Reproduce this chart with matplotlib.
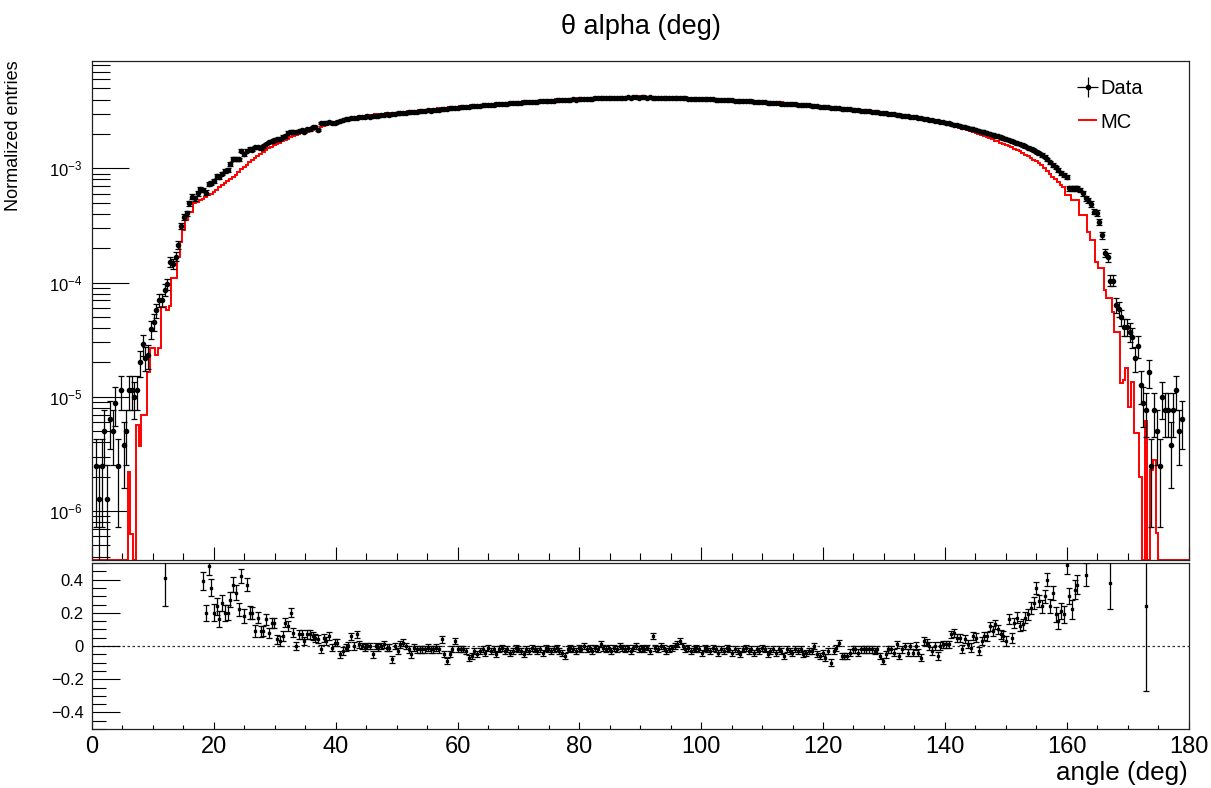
import numpy as np
import matplotlib
matplotlib.use('Agg')
import matplotlib.pyplot as plt
from matplotlib.ticker import MultipleLocator, LogLocator, NullFormatter, FuncFormatter, LogFormatterSciNotation

plt.rcParams['font.family'] = ['Liberation Sans', 'DejaVu Sans']
plt.rcParams['mathtext.fontset'] = 'custom'
plt.rcParams['mathtext.rm'] = 'Liberation Sans'
plt.rcParams['mathtext.it'] = 'Liberation Sans:italic'
plt.rcParams['mathtext.bf'] = 'Liberation Sans:bold'

nan = np.nan

# 400 bins of 0.45 deg from 0 to 180; normalized entries in units of 1e-3
data_e3 = [
    0, 0.0025, 0.00127, 0.0025, 0.00506, 0.00127, 0.00635, 0.00506, 0.0089, 0.0025,
    0.0114, 0.0038, 0.00506, 0.0114, 0.0114, 0.0100, 0.0114, 0.020, 0.029, 0.022,
    0.023, 0.039, 0.045, 0.057, 0.070, 0.070, 0.086, 0.097, 0.152, 0.146,
    0.169, 0.213, 0.315, 0.377, 0.404, 0.494, 0.565, 0.546, 0.604, 0.655,
    0.650, 0.612, 0.724, 0.750, 0.780, 0.857, 0.840, 0.900, 0.946, 0.970,
    1.09, 1.21, 1.21, 1.20, 1.43, 1.33, 1.43, 1.48, 1.45, 1.53,
    1.53, 1.50, 1.56, 1.63, 1.70, 1.72, 1.76, 1.79, 1.82, 1.89,
    1.91, 2.05, 2.10, 2.07, 2.07, 2.13, 2.16, 2.10, 2.20, 2.19,
    2.31, 2.31, 2.16, 2.48, 2.50, 2.50, 2.52, 2.48, 2.50, 2.53,
    2.61, 2.66, 2.71, 2.72, 2.74, 2.76, 2.74, 2.79, 2.80, 2.83,
    2.85, 2.84, 2.88, 2.90, 2.89, 2.93, 2.95, 2.96, 2.94, 2.99,
    3.01, 3.02, 3.04, 3.03, 3.07, 3.09, 3.10, 3.12, 3.11, 3.16,
    3.17, 3.20, 3.21, 3.19, 3.25, 3.26, 3.27, 3.30, 3.28, 3.33,
    3.35, 3.36, 3.39, 3.40, 3.42, 3.41, 3.45, 3.47, 3.48, 3.50,
    3.49, 3.53, 3.55, 3.57, 3.58, 3.57, 3.61, 3.63, 3.64, 3.66,
    3.65, 3.69, 3.70, 3.72, 3.73, 3.75, 3.74, 3.78, 3.79, 3.80,
    3.82, 3.81, 3.84, 3.86, 3.87, 3.88, 3.86, 3.91, 3.92, 3.93,
    3.95, 3.94, 3.97, 3.98, 3.99, 4.01, 4.00, 4.03, 4.04, 4.05,
    4.06, 4.05, 4.08, 4.09, 4.10, 4.09, 4.11, 4.12, 4.13, 4.12,
    4.14, 4.15, 4.14, 4.16, 4.15, 4.17, 4.16, 4.17, 4.18, 4.16,
    4.25, 4.17, 4.16, 4.17, 4.15, 4.16, 4.14, 4.15, 4.13, 4.14,
    4.12, 4.13, 4.11, 4.12, 4.10, 4.09, 4.10, 4.08, 4.07, 4.08,
    4.06, 4.05, 4.04, 4.05, 4.02, 4.01, 4.02, 3.99, 3.98, 3.97,
    3.98, 3.95, 3.94, 3.93, 3.91, 3.92, 3.89, 3.88, 3.87, 3.85,
    3.86, 3.83, 3.82, 3.80, 3.79, 3.80, 3.76, 3.75, 3.73, 3.72,
    3.73, 3.69, 3.68, 3.66, 3.64, 3.63, 3.64, 3.60, 3.58, 3.57,
    3.55, 3.56, 3.52, 3.50, 3.49, 3.47, 3.45, 3.44, 3.42, 3.40,
    3.39, 3.37, 3.36, 3.33, 3.32, 3.30, 3.28, 3.26, 3.24, 3.23,
    3.20, 3.19, 3.17, 3.15, 3.12, 3.11, 3.09, 3.06, 3.05, 3.02,
    3.01, 2.98, 2.97, 2.94, 2.92, 2.90, 2.88, 2.86, 2.83, 2.81,
    2.79, 2.76, 2.74, 2.71, 2.69, 2.66, 2.64, 2.61, 2.59, 2.56,
    2.53, 2.50, 2.47, 2.44, 2.41, 2.38, 2.35, 2.32, 2.29, 2.26,
    2.23, 2.19, 2.16, 2.13, 2.10, 2.06, 2.03, 2.00, 1.97, 1.93,
    1.90, 1.87, 1.83, 1.80, 1.77, 1.73, 1.70, 1.66, 1.63, 1.59,
    1.56, 1.52, 1.48, 1.44, 1.40, 1.36, 1.31, 1.26, 1.20, 1.13,
    1.07, 1.02, 0.967, 0.915, 0.873, 0.844, 0.668, 0.668, 0.668, 0.668,
    0.645, 0.604, 0.547, 0.528, 0.488, 0.418, 0.409, 0.341, 0.261, 0.183,
    0.166, 0.104, 0.104, 0.0637, 0.0584, 0.0497, 0.0411, 0.0411, 0.037, 0.0332,
    0.0218, 0.0279, 0.0127, 0.0088, 0.0076, 0.0164, 0.0025, 0.0076, 0.00506, 0.0025,
    0.0100, 0.0076, 0.0076, 0.0038, 0.0076, 0.0115, 0.00506, 0.00635, 0, 0,
]

mc_e3 = [
    0, 0, 0, 0, 0, 0, 0, 0, 0, 0,
    0, 0, 0, 0.0022, 0.00063, 0, 0.0057, 0.0037, 0.0069, 0.0069,
    0.0166, 0.0265, 0.0265, 0.023, 0.0265, 0.061, 0.061, 0.057, 0.063, 0.109,
    0.109, 0.169, 0.228, 0.288, 0.353, 0.417, 0.417, 0.494, 0.510, 0.530,
    0.540, 0.560, 0.580, 0.600, 0.620, 0.650, 0.680, 0.710, 0.740, 0.770,
    0.800, 0.840, 0.880, 0.930, 0.980, 1.03, 1.08, 1.13, 1.18, 1.23,
    1.28, 1.33, 1.38, 1.44, 1.50, 1.55, 1.60, 1.64, 1.68, 1.72,
    1.77, 1.82, 1.87, 1.91, 1.95, 1.99, 2.02, 2.05, 2.08, 2.11,
    2.15, 2.19, 2.23, 2.28, 2.33, 2.38, 2.42, 2.46, 2.50, 2.54,
    2.62, 2.66, 2.71, 2.75, 2.78, 2.80, 2.83, 2.85, 2.86, 2.89,
    2.91, 2.92, 2.94, 2.96, 2.97, 2.99, 3.01, 3.02, 3.03, 3.05,
    3.07, 3.08, 3.10, 3.12, 3.13, 3.15, 3.16, 3.18, 3.20, 3.22,
    3.23, 3.26, 3.27, 3.29, 3.31, 3.33, 3.34, 3.37, 3.38, 3.40,
    3.42, 3.43, 3.46, 3.47, 3.49, 3.50, 3.52, 3.54, 3.55, 3.57,
    3.58, 3.60, 3.62, 3.64, 3.65, 3.67, 3.68, 3.70, 3.71, 3.73,
    3.74, 3.76, 3.77, 3.79, 3.80, 3.82, 3.83, 3.85, 3.87, 3.88,
    3.89, 3.90, 3.92, 3.93, 3.95, 3.96, 3.97, 3.98, 4.00, 4.01,
    4.02, 4.03, 4.05, 4.06, 4.07, 4.08, 4.09, 4.10, 4.12, 4.13,
    4.14, 4.14, 4.16, 4.17, 4.18, 4.18, 4.19, 4.20, 4.21, 4.21,
    4.22, 4.23, 4.23, 4.24, 4.24, 4.25, 4.25, 4.25, 4.26, 4.26,
    4.26, 4.26, 4.25, 4.25, 4.24, 4.24, 4.23, 4.23, 4.22, 4.22,
    4.21, 4.21, 4.20, 4.19, 4.18, 4.17, 4.17, 4.16, 4.15, 4.15,
    4.14, 4.13, 4.12, 4.12, 4.10, 4.09, 4.09, 4.07, 4.06, 4.05,
    4.05, 4.03, 4.02, 4.01, 3.99, 3.99, 3.97, 3.96, 3.95, 3.93,
    3.93, 3.91, 3.90, 3.88, 3.87, 3.87, 3.84, 3.83, 3.81, 3.80,
    3.80, 3.77, 3.75, 3.74, 3.72, 3.71, 3.70, 3.67, 3.65, 3.64,
    3.62, 3.61, 3.59, 3.57, 3.56, 3.54, 3.52, 3.51, 3.49, 3.47,
    3.46, 3.44, 3.43, 3.40, 3.39, 3.37, 3.35, 3.33, 3.31, 3.29,
    3.27, 3.25, 3.23, 3.21, 3.18, 3.17, 3.15, 3.12, 3.11, 3.08,
    3.05, 3.03, 3.01, 2.99, 2.96, 2.94, 2.91, 2.88, 2.85, 2.82,
    2.80, 2.77, 2.75, 2.72, 2.70, 2.67, 2.65, 2.62, 2.59, 2.56,
    2.53, 2.48, 2.43, 2.39, 2.35, 2.31, 2.27, 2.23, 2.19, 2.15,
    2.11, 2.07, 2.03, 1.99, 1.95, 1.91, 1.87, 1.83, 1.80, 1.75,
    1.72, 1.68, 1.64, 1.61, 1.57, 1.53, 1.49, 1.44, 1.41, 1.36,
    1.32, 1.28, 1.23, 1.19, 1.15, 1.11, 1.06, 1.01, 0.952, 0.89,
    0.836, 0.80, 0.755, 0.715, 0.68, 0.583, 0.583, 0.528, 0.528, 0.528,
    0.39, 0.39, 0.39, 0.279, 0.236, 0.236, 0.152, 0.133, 0.133, 0.086,
    0.074, 0.074, 0.0557, 0.037, 0.037, 0.0131, 0.014, 0.0178, 0.0082, 0.0136,
    0.0048, 0.0048, 0.0020, 0, 0.0061, 0, 0.0023, 0.0028, 0.00064, 0,
    0, 0, 0, 0, 0, 0, 0, 0, 0, 0,
]

# (Data - MC) / MC as shown in the lower pad
ratio = [
    nan, nan, nan, nan, nan, nan, nan, nan, nan, nan,
    nan, nan, nan, nan, nan, nan, nan, nan, nan, nan,
    nan, nan, nan, nan, nan, nan, 0.41, nan, nan, nan,
    nan, nan, nan, nan, nan, nan, nan, nan, nan, nan,
    0.39, 0.20, 0.48, 0.35, 0.20, 0.24, 0.16, 0.26, 0.20, 0.20,
    0.28, 0.37, 0.32, 0.22, 0.42, 0.18, 0.37, 0.20, 0.20, 0.09,
    0.17, 0.09, 0.09, 0.16, 0.08, 0.14, 0.14, 0.04, 0.03, 0.06,
    0.14, 0.12, 0.20, 0.08, 0.00, 0.07, 0.07, 0.03, 0.07, 0.07,
    0.06, 0.05, 0.04, -0.02, 0.05, 0.03, 0.06, -0.01, 0.02, 0.02,
    -0.05, -0.03, -0.01, 0.00, 0.06, 0.00, 0.07, 0.01, 0.00, -0.01,
    0.00, 0.00, -0.05, 0.00, -0.01, 0.00, 0.01, -0.01, -0.01, -0.08,
    0.00, -0.03, 0.01, 0.02, 0.00, -0.02, -0.05, -0.01, -0.02, -0.02,
    -0.02, -0.02, -0.01, -0.02, -0.02, -0.01, -0.02, 0.04, -0.05, -0.09,
    -0.05, -0.02, 0.03, -0.02, -0.02, -0.02, -0.03, -0.07, -0.06, -0.03,
    -0.05, -0.03, -0.02, -0.04, -0.01, -0.03, -0.02, -0.05, -0.02, -0.01,
    -0.03, -0.02, -0.04, -0.03, -0.01, -0.02, -0.03, -0.05, -0.02, -0.03,
    -0.01, -0.02, -0.03, -0.02, -0.04, -0.01, -0.02, -0.03, -0.02, -0.01,
    -0.03, -0.04, -0.06, -0.02, -0.01, -0.02, -0.03, -0.01, -0.02, 0.00,
    -0.02, -0.01, -0.03, -0.01, -0.02, 0.01, -0.01, -0.02, -0.01, -0.03,
    -0.01, -0.02, 0.00, -0.01, -0.02, -0.01, -0.03, -0.01, 0.00, -0.02,
    -0.01, -0.02, -0.01, -0.03, 0.06, -0.01, -0.02, 0.00, -0.01, -0.03,
    -0.02, -0.01, 0.00, 0.01, 0.03, 0.00, -0.02, -0.01, -0.03, -0.02,
    -0.01, -0.02, -0.04, -0.01, -0.02, -0.03, -0.01, -0.02, -0.04, -0.02,
    -0.03, -0.01, -0.02, -0.04, -0.02, -0.03, -0.05, -0.02, -0.01, -0.03,
    -0.02, -0.04, -0.02, -0.03, -0.01, -0.02, -0.05, -0.03, -0.02, -0.04,
    -0.02, -0.03, -0.06, -0.02, -0.03, -0.04, -0.02, -0.03, -0.02, -0.05,
    -0.04, -0.03, -0.03, 0.00, -0.05, -0.06, -0.04, -0.07, -0.03, -0.10,
    -0.03, -0.01, 0.02, -0.06, -0.06, -0.06, -0.04, -0.02, -0.02, -0.04,
    -0.02, -0.02, -0.02, -0.02, -0.02, -0.03, -0.02, -0.06, -0.09, -0.05,
    -0.02, -0.02, -0.04, 0.01, -0.06, -0.02, 0.00, -0.04, 0.00, -0.04,
    0.00, -0.04, -0.07, 0.03, 0.02, 0.00, -0.03, 0.00, -0.06, 0.00,
    0.01, 0.01, 0.01, 0.07, 0.08, 0.05, 0.05, -0.02, 0.04, 0.01,
    -0.01, 0.06, 0.05, -0.03, 0.03, 0.06, 0.06, 0.12, 0.09, 0.13,
    0.10, 0.07, 0.06, 0.03, 0.16, 0.05, 0.14, 0.17, 0.12, 0.13,
    0.17, 0.19, 0.23, 0.26, 0.35, 0.27, 0.24, 0.30, 0.40, 0.24,
    0.32, 0.19, 0.15, 0.21, 0.19, 0.49, 0.30, 0.22, 0.34, 0.37,
    nan, nan, 0.43, nan, nan, nan, nan, nan, nan, nan,
    nan, 0.38, nan, nan, nan, nan, nan, nan, nan, nan,
    nan, nan, nan, nan, 0.24, nan, nan, nan, nan, nan,
    nan, nan, nan, nan, nan, nan, nan, nan, nan, nan,
]

one_entry = 1.27e-6   # height of a single entry after normalization

x_ticks = [0, 20, 40, 60, 80, 100, 120, 140, 160, 180]

#######################################################################
# derived quantities
edges = np.linspace(0, 180, len(data_e3) + 1)
centers = 0.5 * (edges[:-1] + edges[1:])
data = np.array(data_e3) * 1e-3
mc = np.array(mc_e3) * 1e-3
rat = np.array(ratio)

data_err = np.sqrt(data / one_entry) * one_entry
data_plot = np.where(data > 0, data, np.nan)
rat_err = np.where(mc > 0, data_err / np.where(mc > 0, mc, 1), np.nan)

ymin, ymax = 3.73e-7, 8.7e-3
mc_plot = np.where(mc > 0, mc, ymin)

#######################################################################
W, H = 1211, 788
fig = plt.figure(figsize=(W / 100, H / 100), dpi=100)

def px_axes(left, top, right, bottom):
    return fig.add_axes([left / W, 1 - bottom / H, (right - left) / W, (bottom - top) / H])

ax = px_axes(92, 61, 1188.5, 560)
ax2 = px_axes(92, 563, 1188.5, 729)

for a in (ax, ax2):
    for s in a.spines.values():
        s.set_linewidth(0.9)
        s.set_color('#222222')
    a.set_xlim(0, 180)

# upper pad
ax.set_yscale('log')
ax.set_ylim(ymin, ymax)
ax.stairs(mc_plot, edges, color='red', lw=1.4, baseline=None, zorder=2)
ax.errorbar(centers, data_plot, yerr=data_err, fmt='o', color='black', ms=3.0,
            elinewidth=0.9, capsize=2.2, capthick=0.9, zorder=3)

ax.yaxis.set_major_locator(LogLocator(base=10, numticks=20))
ax.yaxis.set_minor_locator(LogLocator(base=10, subs=np.arange(2, 10), numticks=20))
ax.yaxis.set_minor_formatter(NullFormatter())
ax.yaxis.set_major_formatter(LogFormatterSciNotation())
ax.xaxis.set_major_locator(MultipleLocator(20))
ax.xaxis.set_minor_locator(MultipleLocator(5))
ax.tick_params(axis='y', which='major', direction='in', length=26.5, width=0.8,
               labelsize=12, pad=7, right=False)
ax.tick_params(axis='y', which='minor', direction='in', length=13, width=0.8, right=False)
ax.tick_params(axis='x', which='major', direction='in', length=9.4, width=0.8,
               labelbottom=False, top=False)
ax.tick_params(axis='x', which='minor', direction='in', length=4.7, width=0.8, top=False)

# legend
h_data = ax.errorbar([nan], [nan], xerr=[1], yerr=[1], fmt='o', color='black', ms=3.0,
                     elinewidth=0.9, capsize=0)
h_mc, = ax.plot([], [], color='red', lw=1.4)
leg = ax.legend([h_data, h_mc], ['Data', 'MC'], loc='upper left',
                bbox_to_anchor=((1079 - 92) / 1096.5, (560 - 79) / 499),
                frameon=False, fontsize=14.5, handlelength=0.85, handletextpad=0.2,
                labelspacing=0.72, borderpad=0, borderaxespad=0)

# lower pad
ax2.set_ylim(-0.5, 0.5)
ax2.axhline(0, color='#333333', lw=0.9, ls=(0, (2, 2)), zorder=1)
ax2.errorbar(centers, rat, yerr=rat_err, fmt='s', color='black', ms=2,
             elinewidth=0.9, capsize=2.2, capthick=0.9, zorder=3)
ax2.xaxis.set_major_locator(MultipleLocator(20))
ax2.xaxis.set_minor_locator(MultipleLocator(5))
ax2.set_xticks(x_ticks)
ax2.yaxis.set_major_locator(MultipleLocator(0.2))
ax2.yaxis.set_minor_locator(MultipleLocator(0.05))
ax2.yaxis.set_major_formatter(FuncFormatter(lambda v, p: '0' if abs(v) < 1e-9 else ('%.1f' % v).replace('-', '\u2212')))
ax2.tick_params(axis='y', which='major', direction='in', length=20, width=0.8,
                labelsize=12, pad=6, right=False)
ax2.tick_params(axis='y', which='minor', direction='in', length=10, width=0.8, right=False)
ax2.tick_params(axis='x', which='major', direction='in', length=5, width=0.8,
                labelsize=17, pad=5, top=False)
ax2.tick_params(axis='x', which='minor', direction='in', length=2.8, width=0.8, top=False)

# texts
fig.text(641 / W, 1 - 27 / H, '\u03b8 alpha (deg)', ha='center', va='center', fontsize=19.5)
fig.text(1188 / W, 1 - 773 / H, 'angle (deg)', ha='right', va='center', fontsize=18.7)
fig.text(14 / W, 1 - 60 / H, 'Normalized entries', rotation=90, ha='center', va='top', fontsize=13)

fig.savefig('out.png', dpi=100)
